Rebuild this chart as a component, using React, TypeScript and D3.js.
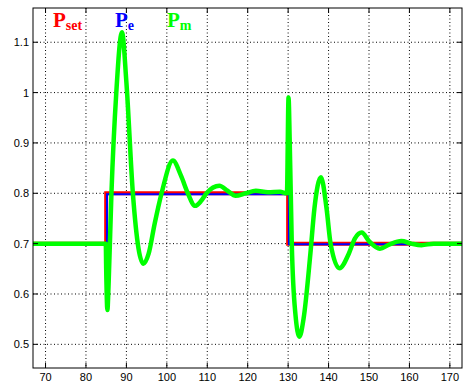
import * as d3 from 'd3'

// time axis [s] and power values [pu]
const psetT = [67, 85, 85, 130, 130, 173]
const psetV = [0.7, 0.7, 0.8, 0.8, 0.7, 0.7]

const peT = [67, 85.2, 85.2, 130.2, 130.2, 173]
const peV = [0.7, 0.7, 0.798, 0.798, 0.699, 0.699]

const pmT = [
  67, 84.9, 85.0, 85.3, 85.6, 86.3, 87.5, 88.9, 90.0, 91.6, 93, 94.2, 95.5, 97, 98.7, 101.5, 103.5, 105.2,
  107, 108.5, 109.8, 113, 115, 117, 119.5, 122, 125, 128, 129.7, 130.1, 130.4, 130.9, 131.8, 132.8, 133.8,
  135.5, 136.5, 138.1, 139.5, 140.5, 142.7, 145, 146.5, 148.2, 150, 152.7, 155, 158, 160.5, 163, 166, 173,
]
const pmV = [
  0.7, 0.7, 0.65, 0.568, 0.62, 0.8, 1.0, 1.12, 1.02, 0.8, 0.69, 0.66, 0.68, 0.74, 0.8, 0.865, 0.835, 0.8,
  0.775, 0.785, 0.8, 0.815, 0.805, 0.795, 0.8, 0.805, 0.802, 0.803, 0.8, 0.99, 0.9, 0.7, 0.56, 0.515, 0.55,
  0.68, 0.77, 0.832, 0.77, 0.7, 0.651, 0.68, 0.71, 0.722, 0.705, 0.69, 0.698, 0.705, 0.7, 0.697, 0.7, 0.7,
]

const xTicks = [70, 80, 90, 100, 110, 120, 130, 140, 150, 160, 170]
const yTicks = [0.5, 0.6, 0.7, 0.8, 0.9, 1, 1.1]

const legend = [
  { main: 'P', sub: 'set', color: '#ff0000', x: 53 },
  { main: 'P', sub: 'e', color: '#0000ff', x: 115 },
  { main: 'P', sub: 'm', color: '#00ff00', x: 167 },
]

export default function App() {
  const width = 467
  const height = 384
  const margin = { top: 8, right: 5, bottom: 16, left: 33 }
  const innerW = width - margin.left - margin.right
  const innerH = height - margin.top - margin.bottom

  const x = d3.scaleLinear().domain([66.9, 173]).range([0, innerW])
  const y = d3.scaleLinear().domain([0.453, 1.168]).range([innerH, 0])

  const pts = (t: number[], v: number[]) => t.map((tt, i) => [tt, v[i]] as [number, number])

  const linear = d3
    .line<[number, number]>()
    .x((d) => x(d[0]))
    .y((d) => y(d[1]))
  const smooth = d3
    .line<[number, number]>()
    .x((d) => x(d[0]))
    .y((d) => y(d[1]))
    .curve(d3.curveMonotoneX)

  const font = 'Liberation Sans, Arial, sans-serif'

  return (
    <div style={{ position: 'fixed', left: 0, top: 0 }}>
      <svg width={width} height={height} style={{ display: 'block', background: '#fff' }}>
        <defs>
          <clipPath id="plot">
            <rect x={0} y={0} width={innerW} height={innerH} />
          </clipPath>
        </defs>
        <g transform={`translate(${margin.left},${margin.top})`}>
          {/* dotted grid */}
          {xTicks.map((t) => (
            <line key={'gx' + t} x1={x(t)} x2={x(t)} y1={0} y2={innerH} stroke="#000" strokeDasharray="1,2.5" />
          ))}
          {yTicks.map((t) => (
            <line key={'gy' + t} x1={0} x2={innerW} y1={y(t)} y2={y(t)} stroke="#000" strokeDasharray="1,2.5" />
          ))}

          <g clipPath="url(#plot)">
            <path d={linear(pts(psetT, psetV)) ?? ''} fill="none" stroke="#ff0000" strokeWidth={4} />
            <path d={linear(pts(peT, peV)) ?? ''} fill="none" stroke="#0000ff" strokeWidth={2} />
            <path
              d={smooth(pts(pmT, pmV)) ?? ''}
              fill="none"
              stroke="#00ff00"
              strokeWidth={4.5}
              strokeLinejoin="round"
              strokeLinecap="round"
            />
          </g>

          {/* ticks on all four sides */}
          {xTicks.map((t) => (
            <g key={'tx' + t}>
              <line x1={x(t)} x2={x(t)} y1={innerH} y2={innerH - 5} stroke="#000" />
              <line x1={x(t)} x2={x(t)} y1={0} y2={5} stroke="#000" />
              <text x={x(t)} y={innerH + 13} textAnchor="middle" fontFamily={font} fontSize={11} fill="#000">
                {t}
              </text>
            </g>
          ))}
          {yTicks.map((t) => (
            <g key={'ty' + t}>
              <line x1={0} x2={5} y1={y(t)} y2={y(t)} stroke="#000" />
              <line x1={innerW} x2={innerW - 5} y1={y(t)} y2={y(t)} stroke="#000" />
              <text x={-4} y={y(t) + 4} textAnchor="end" fontFamily={font} fontSize={11} fill="#000">
                {t}
              </text>
            </g>
          ))}

          <rect x={0} y={0} width={innerW} height={innerH} fill="none" stroke="#000" strokeWidth={1} />
        </g>

        {legend.map((l) => (
          <text
            key={l.sub}
            x={l.x}
            y={27}
            fill={l.color}
            fontFamily="Liberation Serif, Times New Roman, serif"
            fontWeight="bold"
            fontSize={21}
          >
            {l.main}
            <tspan fontSize={14} dy={3}>
              {l.sub}
            </tspan>
          </text>
        ))}
      </svg>
    </div>
  )
}
